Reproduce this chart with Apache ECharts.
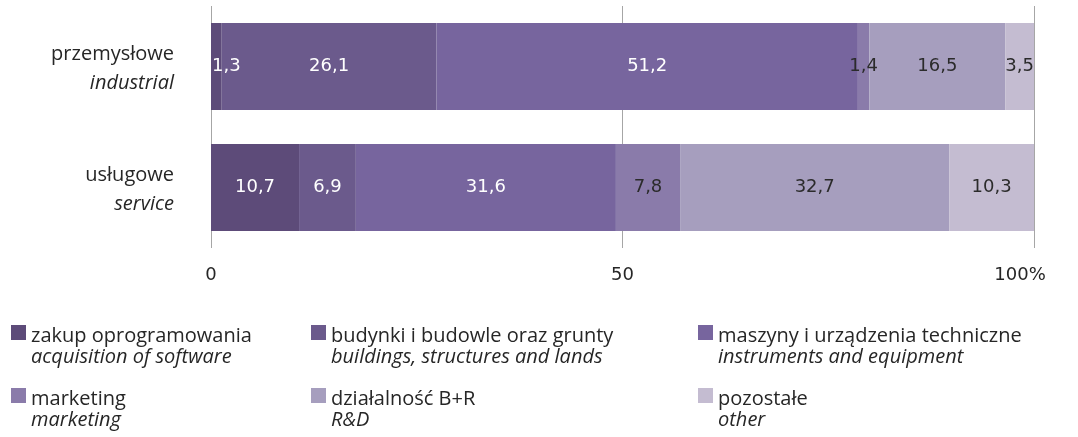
<!DOCTYPE html>
<html>
<head>
<meta charset="utf-8">
<script src="https://cdn.jsdelivr.net/npm/echarts@6/dist/echarts.min.js"></script>
<style>
  html, body { margin: 0; padding: 0; background: #ffffff; }
  #chart { width: 1078px; height: 437px; }
</style>
</head>
<body>
<div id="chart"></div>
<script>
// Structure of innovation expenditures by type of enterprise (percent)
const categories = ['przemysłowe|industrial', 'usługowe|service'];
const seriesNames = [
  'zakup oprogramowania|acquisition of software',
  'budynki i budowle oraz grunty|buildings, structures and lands',
  'maszyny i urządzenia techniczne|instruments and equipment',
  'marketing|marketing',
  'działalność B+R|R&D',
  'pozostałe|other'
];
const software = [1.3, 10.7];
const buildings = [26.1, 6.9];
const machines = [51.2, 31.6];
const marketing = [1.4, 7.8];
const research = [16.5, 32.7];
const other = [3.5, 10.3];
const xTicks = [0, 50, 100];

const values = [software, buildings, machines, marketing, research, other];
const colors = ['#5d4b79', '#6b5a8c', '#77659e', '#8a7baa', '#a69ebe', '#c4bcd1'];
const labelColors = ['#ffffff', '#ffffff', '#ffffff', '#2b2b2b', '#2b2b2b', '#2b2b2b'];

const textFont = '"Open Sans", Roboto, sans-serif';
const numFont = '"DejaVu Sans", sans-serif';

function twoLine(s) {
  const p = s.split('|');
  return '{a|' + p[0] + '}\n{b|' + p[1] + '}';
}

const series = values.map((arr, i) => ({
  name: seriesNames[i],
  type: 'bar',
  stack: 'total',
  barCategoryGap: '28%',
  itemStyle: { color: colors[i] },
  label: {
    show: true,
    position: 'inside',
    color: labelColors[i],
    fontFamily: numFont,
    fontSize: 18,
    formatter: p => String(p.value).replace('.', ',')
  },
  data: arr.map((v, j) => {
    // the thin first segment of the top bar carries its label left-aligned
    if (i === 0 && v < 3) {
      return { value: v, label: { position: 'insideLeft', distance: 1 } };
    }
    return v;
  })
}));

// top padding keeps the swatch level with the first text line
const legendText = {
  color: '#262626',
  padding: [28, 0, 0, 0],
  rich: {
    a: { fontFamily: textFont, fontSize: 20, lineHeight: 21, color: '#262626' },
    b: { fontFamily: textFont, fontSize: 20, lineHeight: 21, fontStyle: 'italic', color: '#262626' }
  }
};
const legendCols = [[0, 3], [1, 4], [2, 5]];
const legendLeft = [11, 311, 698];
const legends = legendCols.map((col, k) => ({
  orient: 'vertical',
  left: legendLeft[k],
  top: 325,
  padding: 0,
  itemGap: 21,
  itemWidth: 15,
  itemHeight: 15,
  icon: 'rect',
  selectedMode: false,
  data: col.map(i => seriesNames[i]),
  formatter: twoLine,
  textStyle: legendText
}));

const chart = echarts.init(document.getElementById('chart'));
chart.setOption({
  animation: false,
  backgroundColor: '#ffffff',
  grid: { left: 211, right: 44, top: 6, height: 242, containLabel: false },
  legend: legends,
  xAxis: {
    type: 'value',
    min: xTicks[0],
    max: xTicks[xTicks.length - 1],
    interval: 50,
    axisLine: { show: false },
    axisTick: { show: false },
    splitLine: { show: true, lineStyle: { color: '#a6a6a6', width: 1 } },
    axisLabel: {
      margin: 18,
      fontFamily: numFont,
      fontSize: 18,
      color: '#262626',
      formatter: v => v === 100 ? '{r|100%}' : String(v),
      rich: { r: { fontFamily: numFont, fontSize: 18, color: '#262626', padding: [0, 28, 0, 0] } }
    }
  },
  yAxis: {
    type: 'category',
    inverse: true,
    data: categories,
    axisLine: { show: false },
    axisTick: { show: false },
    axisLabel: {
      margin: 37,
      padding: [4, 0, 0, 0],
      formatter: twoLine,
      rich: {
        a: { fontFamily: textFont, fontSize: 20, lineHeight: 29, color: '#262626', align: 'right' },
        b: { fontFamily: textFont, fontSize: 20, lineHeight: 29, fontStyle: 'italic', color: '#262626', align: 'right' }
      }
    }
  },
  series: series
});
</script>
</body>
</html>
